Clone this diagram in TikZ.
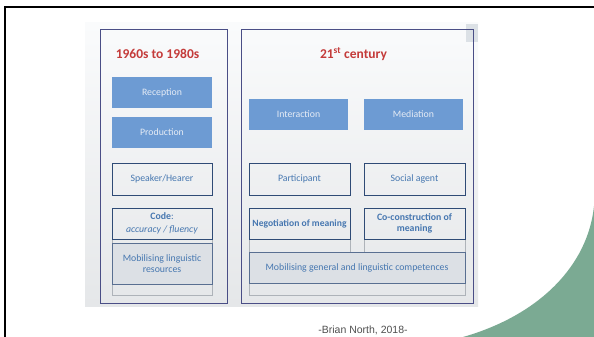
\documentclass[tikz,border=0pt]{standalone}
\usepackage{fontspec}
\setmainfont{Carlito}
\newfontfamily\footfont{Liberation Sans}
\definecolor{panelnavy}{HTML}{4A4E86}
\definecolor{bluefill}{HTML}{6D9BD3}
\definecolor{bluetext}{HTML}{E6ECF5}
\definecolor{outborder}{HTML}{2F4B76}
\definecolor{outtext}{HTML}{4677B0}
\definecolor{lightborder}{HTML}{AEB3B9}
\definecolor{mobfill}{HTML}{DCE0E5}
\definecolor{greenshape}{HTML}{7BAA93}
\definecolor{titlered}{HTML}{C43B3A}
\definecolor{shottop}{HTML}{FAFBFC}
\definecolor{shotbot}{HTML}{E5E7E9}
\definecolor{cornergray}{HTML}{DCE1E6}
\definecolor{foottext}{HTML}{505050}
\begin{document}
\begin{tikzpicture}[x=1pt,y=-1pt,
  panel/.style={draw=panelnavy,line width=0.9pt},
  filledbox/.style={fill=bluefill,text=bluetext,minimum width=100pt,minimum height=31pt,inner sep=0pt,font=\fontsize{9.8}{11.5}\selectfont,align=center},
  outbox/.style={draw=outborder,line width=0.8pt,text=outtext,minimum width=101pt,minimum height=32pt,inner sep=0pt,font=\fontsize{9.8}{11.5}\selectfont,align=center},
  mobbox/.style={outbox,fill=mobfill,draw=outborder!80},
  lightbox/.style={draw=lightborder,line width=0.7pt},
  titletext/.style={text=titlered,font=\fontsize{13.5}{16}\selectfont\bfseries}
]
\useasboundingbox (0,0) rectangle (594,337);
\fill[white] (0,0) rectangle (594,337);
% slide frame
\draw[black,line width=2pt] (5,337) -- (5,7) -- (594,7);
% green shape
\fill[greenshape] (463,337) .. controls (540,315) and (588,265) .. (594,206) -- (594,337) -- cycle;
% screenshot area
\shade[top color=shottop,bottom color=shotbot] (85,23) rectangle (478,306);
\fill[cornergray] (466,24) rectangle (478,42);
% panels
\draw[panel] (100,29) rectangle (227,303);
\draw[panel] (241,29) rectangle (473,303);
\node[titletext] (t1) at (157.5,54) {1960s to 1980s};
\node[titletext] (t2) at (353.5,54) {21\textsuperscript{st} century};
% light background boxes
\draw[lightbox] (112,208) rectangle (212,295);
\draw[lightbox] (249,208) rectangle (350,260);
\draw[lightbox] (364,208) rectangle (465,260);
\draw[lightbox] (249,252) rectangle (465,295);
% left column
\node[filledbox] (rec) at (162,92.5) {Reception};
\node[filledbox] (prod) at (162,132.5) {Production};
\node[outbox,minimum width=100pt] (spk) at (162,179) {Speaker/Hearer};
\node[outbox,minimum width=100pt,minimum height=31pt] (code) at (162,223.5) {\textbf{Code}:\\[1pt]\textit{accuracy / fluency}};
\node[mobbox,minimum width=100pt,minimum height=41pt] (mobl) at (162,263.5) {Mobilising linguistic\\resources};
% right column
\node[filledbox,minimum width=99pt] (int) at (298.5,114.5) {Interaction};
\node[filledbox,minimum width=99pt] (med) at (413.5,114.5) {Mediation};
\node[outbox] (part) at (299.5,179) {Participant};
\node[outbox] (soc) at (414.5,179) {Social agent};
\node[outbox,minimum height=31pt,font=\fontsize{9.6}{11}\selectfont\bfseries] (neg) at (299.5,223.5) {Negotiation of meaning};
\node[outbox,minimum height=31pt,font=\fontsize{9.8}{11}\selectfont\bfseries] (coc) at (414.5,223.5) {Co-construction of\\meaning};
\node[mobbox,minimum width=216pt,minimum height=31pt] (mobr) at (357,267.5) {Mobilising general and linguistic competences};
% footer
\node[text=foottext,font=\footfont\fontsize{10.5}{12}\selectfont] (foot) at (363,330) {-Brian North, 2018-};
\end{tikzpicture}
\end{document}
